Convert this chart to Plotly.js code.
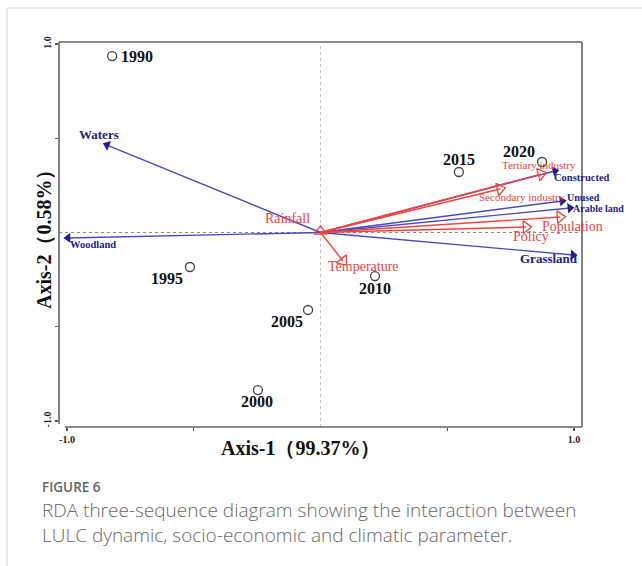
<!DOCTYPE html>
<html>
<head>
<meta charset="utf-8">
<script src="https://cdn.plot.ly/plotly-3.0.1.min.js"></script>
<style>
  html, body { margin: 0; padding: 0; background: #fff; }
  #chart { width: 642px; height: 566px; }
</style>
</head>
<body>
<div id="chart"></div>
<script>
// ---- data ----
const years = ['1990', '1995', '2000', '2005', '2010', '2015', '2020'];
const yearAxis1 = [-0.822, -0.515, -0.247, -0.049, 0.215, 0.546, 0.874];
const yearAxis2 = [0.936, -0.183, -0.836, -0.411, -0.231, 0.321, 0.374];

const lulcNames = ['Waters', 'Woodland', 'Constructed', 'Unused', 'Arable land', 'Grassland'];
const lulcAxis1 = [-0.842, -0.996, 0.925, 0.953, 0.984, 0.996];
const lulcAxis2 = [0.464, -0.029, 0.326, 0.167, 0.130, -0.119];

const driverNames = ['Tertiary industry', 'Secondary industry', 'Population', 'Policy', 'Temperature', 'Rainfall'];
const driverAxis1 = [0.870, 0.708, 0.945, 0.811, 0.089, 0.000];
const driverAxis2 = [0.310, 0.231, 0.082, 0.029, -0.151, 0.006];

const xTickVals = [-1, -0.5, 0.5, 1];
const xTickText = ['-1.0', '', '', '1.0'];
const yTickVals = [-1, -0.5, 0.5, 1];
const yTickText = ['-1.0', '', '', '1.0'];

// ---- styles / label placement ----
const SERIF = '"Liberation Serif", "Times New Roman", "DejaVu Serif", serif';
const SANS = '"Open Sans", "Noto Sans", sans-serif';
const BLUE_LINE = '#4a4abf';
const BLUE_DARK = '#1e1e8c';
const RED = '#f0443c';

const yearLabelStyle = [
  {dx: 25, dy: 0}, {dx: -23, dy: -11}, {dx: -1, dy: -11}, {dx: -21, dy: -12},
  {dx: 0, dy: -12}, {dx: 0, dy: 12}, {dx: -23, dy: 11}
];
const lulcLabelStyle = [
  {dx: -8, dy: 11, size: 13},
  {dx: 25, dy: -7, size: 10.5},
  {dx: 27, dy: -6, size: 10.5},
  {dx: 21, dy: 4, size: 10},
  {dx: 29, dy: 0, size: 10},
  {dx: -24, dy: -4, size: 13}
];
const driverLabelStyle = [
  {dx: -2, dy: 9, size: 11},
  {dx: 22, dy: -8, size: 11},
  {dx: 12, dy: -9, size: 14},
  {dx: 5, dy: -9, size: 14},
  {dx: 20, dy: -6, size: 14},
  {dx: -33, dy: 13, size: 14}
];

// plot box in pixels: x 59..582, y 42..427
const P = (px, py) => ({x: (px - 59) / 523, y: (427 - py) / 385});

const traces = [];
lulcNames.forEach((n, i) => {
  traces.push({
    type: 'scatter', mode: 'lines+markers',
    x: [0, lulcAxis1[i]], y: [0, lulcAxis2[i]],
    line: {color: BLUE_LINE, width: 1.4},
    marker: {symbol: 'triangle-up', size: [9, 9], opacity: [0, 1], angleref: 'previous', color: BLUE_DARK, line: {width: 0}},
    hoverinfo: 'skip', showlegend: false, cliponaxis: false
  });
});
driverNames.forEach((n, i) => {
  traces.push({
    type: 'scatter', mode: 'lines+markers',
    x: [0, driverAxis1[i]], y: [0, driverAxis2[i]],
    line: {color: RED, width: 1.4},
    marker: {symbol: 'triangle-up-open', size: [11, 11], opacity: [0, 1], angleref: 'previous', color: RED, line: {width: 1.3, color: RED}},
    hoverinfo: 'skip', showlegend: false, cliponaxis: false
  });
});
traces.push({
  type: 'scatter', mode: 'markers',
  x: yearAxis1, y: yearAxis2,
  marker: {symbol: 'circle-open', size: 9, color: '#444', line: {width: 1.3, color: '#444'}},
  hoverinfo: 'skip', showlegend: false, cliponaxis: false
});

const annotations = [];
years.forEach((n, i) => {
  const s = yearLabelStyle[i];
  annotations.push({
    x: yearAxis1[i], y: yearAxis2[i], xref: 'x', yref: 'y', text: n, showarrow: false,
    xanchor: 'center', yanchor: 'middle', xshift: s.dx, yshift: s.dy,
    font: {family: SERIF, size: 16, color: '#111', weight: 'bold'}
  });
});
lulcNames.forEach((n, i) => {
  const s = lulcLabelStyle[i];
  annotations.push({
    x: lulcAxis1[i], y: lulcAxis2[i], xref: 'x', yref: 'y', text: n, showarrow: false,
    xanchor: 'center', yanchor: 'middle', xshift: s.dx, yshift: s.dy,
    font: {family: SERIF, size: s.size, color: BLUE_DARK, weight: 'bold'}
  });
});
driverNames.forEach((n, i) => {
  const s = driverLabelStyle[i];
  annotations.push({
    x: driverAxis1[i], y: driverAxis2[i], xref: 'x', yref: 'y', text: n, showarrow: false,
    xanchor: 'center', yanchor: 'middle', xshift: s.dx, yshift: s.dy,
    font: {family: SERIF, size: s.size, color: RED}
  });
});
// axis titles
const xt = P(300, 448), yt = P(44, 235);
annotations.push({x: xt.x, y: xt.y, xref: 'paper', yref: 'paper', showarrow: false,
  xanchor: 'center', yanchor: 'middle',
  text: 'Axis-1（99.37%）', font: {family: SERIF, size: 20, color: '#111', weight: 'bold'}});
annotations.push({x: yt.x, y: yt.y, xref: 'paper', yref: 'paper', showarrow: false, textangle: -90,
  xanchor: 'center', yanchor: 'middle',
  text: 'Axis-2（0.58%）', font: {family: SERIF, size: 20, color: '#111', weight: 'bold'}});
// caption
const c0 = P(40, 487), c1 = P(40, 522);
annotations.push({x: c0.x, y: c0.y, xref: 'paper', yref: 'paper', xanchor: 'left', yanchor: 'middle', showarrow: false,
  text: 'FIGURE 6', font: {family: SANS, size: 13.5, color: '#666', weight: 600}});
annotations.push({x: c1.x, y: c1.y, xref: 'paper', yref: 'paper', xanchor: 'left', yanchor: 'middle', align: 'left', showarrow: false,
  text: 'RDA three-sequence diagram showing the interaction between<br>LULC dynamic, socio-economic and climatic parameter.',
  font: {family: SANS, size: 19, color: '#6a6a6a', weight: 300}});

const cardTop = P(7, 8), cardBottom = P(7, 566), cardRight = P(642, 8);
const leftEnd = P(59, 424), bottomStart = P(65, 427);
const shapes = [
  // card border
  {type: 'line', xref: 'paper', yref: 'paper', x0: cardTop.x, x1: cardRight.x, y0: cardTop.y, y1: cardTop.y, line: {color: '#d4d4d4', width: 1}},
  {type: 'line', xref: 'paper', yref: 'paper', x0: cardTop.x, x1: cardTop.x, y0: cardBottom.y, y1: cardTop.y, line: {color: '#d4d4d4', width: 1}},
  // zero reference lines
  {type: 'line', xref: 'x', yref: 'paper', x0: 0, x1: 0, y0: 0, y1: 1, line: {color: '#c4c4c4', width: 1, dash: 'dot'}, layer: 'below'},
  {type: 'line', xref: 'paper', yref: 'y', x0: 0, x1: 1, y0: 0, y1: 0, line: {color: '#8a8a8a', width: 1, dash: 'dot'}, layer: 'below'},
  // plot frame
  {type: 'line', xref: 'paper', yref: 'paper', x0: 0, x1: 1, y0: 1, y1: 1, line: {color: '#666', width: 1.6}},
  {type: 'line', xref: 'paper', yref: 'paper', x0: 1, x1: 1, y0: 0, y1: 1, line: {color: '#666', width: 1.6}},
  {type: 'line', xref: 'paper', yref: 'paper', x0: 0, x1: 0, y0: leftEnd.y, y1: 1, line: {color: '#666', width: 1.6}},
  {type: 'line', xref: 'paper', yref: 'paper', x0: bottomStart.x, x1: 1, y0: 0, y1: 0, line: {color: '#666', width: 1.6}}
];

const axisCommon = {
  showgrid: false, zeroline: false, showline: false,
  ticks: 'outside', ticklen: 3, tickwidth: 1.2, tickcolor: '#555',
  tickfont: {family: SERIF, size: 10, color: '#222', weight: 'bold'},
  fixedrange: true
};

const layout = {
  width: 642, height: 566, autosize: false,
  margin: {l: 59, r: 60, t: 42, b: 139, pad: 0},
  paper_bgcolor: '#fff', plot_bgcolor: '#fff',
  xaxis: Object.assign({}, axisCommon, {range: [-1.0316, 1.0316], tickvals: xTickVals, ticktext: xTickText}),
  yaxis: Object.assign({}, axisCommon, {range: [-1.0318, 1.0106], tickvals: yTickVals, ticktext: yTickText, tickangle: -90}),
  shapes: shapes,
  annotations: annotations,
  showlegend: false
};

Plotly.newPlot('chart', traces, layout, {staticPlot: true, displayModeBar: false});
</script>
</body>
</html>
